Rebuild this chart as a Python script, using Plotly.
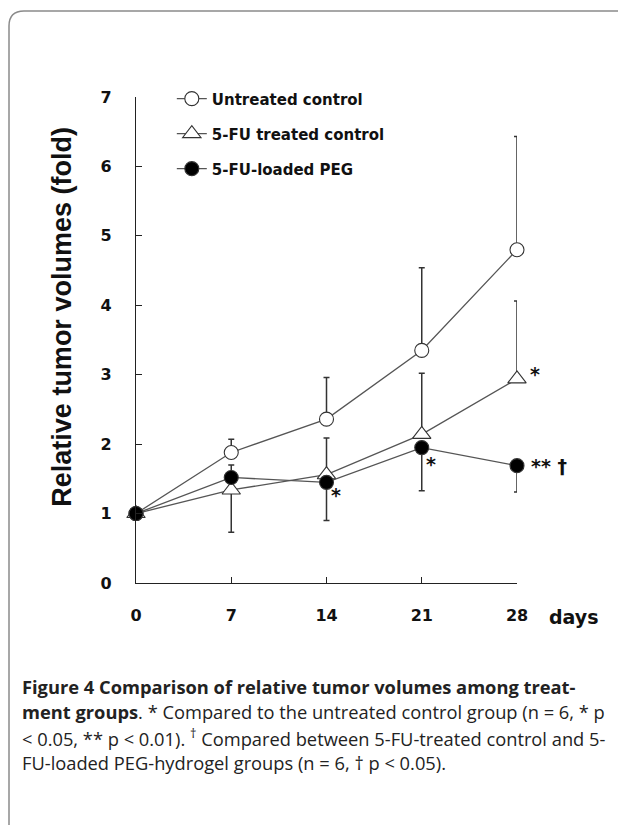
import plotly.graph_objects as go

days = [0, 7, 14, 21, 28]
day_labels = ["0", "7", "14", "21", "28"]

untreated = [1.0, 1.88, 2.36, 3.35, 4.80]
untreated_up = [0, 0.19, 0.60, 1.19, 1.63]
untreated_dn = [0, 0, 0, 0, 0]

treated = [1.0, 1.34, 1.56, 2.14, 2.94]
treated_up = [0, 0, 0.53, 0.88, 1.12]
treated_dn = [0, 0.61, 0, 0, 0]

loaded = [1.0, 1.52, 1.45, 1.95, 1.69]
loaded_up = [0, 0.18, 0, 0, 0]
loaded_dn = [0, 0, 0.55, 0.62, 0.38]

series_names = ["Untreated control", "5-FU treated control", "5-FU-loaded PEG"]

# significance marks: (series, day index, label)
marks = [
    ("treated", 4, "*"),
    ("loaded", 2, "*"),
    ("loaded", 3, "*"),
    ("loaded", 4, "** †"),
]

caption_lines = [
    "<b>Figure 4 Comparison of relative tumor volumes among treat-</b>",
    "<b>ment groups</b>. * Compared to the untreated control group (n = 6, * p",
    "&lt; 0.05, ** p &lt; 0.01). <sup>†</sup> Compared between 5-FU-treated control and 5-",
    "FU-loaded PEG-hydrogel groups (n = 6, † p &lt; 0.05).",
]

# page is offset by the 8px body margin
W, H = 618, 817
L, R, T, B = 128, 109, 89, 242
plot_w = W - L - R
plot_h = H - T - B

LINE = "#555555"
ERR = "#333333"

fig = go.Figure()

def add_series(name, y, up, dn, symbol, fill, group, size):
    fig.add_trace(go.Scatter(
        x=days, y=y, name=name, mode="lines+markers",
        legendgroup=group,
        line=dict(color=LINE, width=1.3),
        marker=dict(symbol=symbol, size=size,
                    color=fill, line=dict(color="#333333", width=1.1)),
        error_y=dict(type="data", symmetric=False, array=up, arrayminus=dn,
                     color=ERR, thickness=1.5, width=3),
        cliponaxis=False,
    ))

add_series(series_names[0], untreated, untreated_up, untreated_dn, "circle", "white", "a", 14)
add_series(series_names[1], treated, treated_up, treated_dn, "triangle-up", "white", "b", 16)
add_series(series_names[2], loaded, loaded_up, loaded_dn, "circle", "black", "c", 14)

lookup = {"treated": treated, "loaded": loaded, "untreated": untreated}
shifts = {("treated", 4): (11, 5), ("loaded", 2): (2, -13), ("loaded", 3): (2, -16), ("loaded", 4): (12, 0)}

annotations = []
for s, i, lab in marks:
    dx, dy = shifts[(s, i)]
    annotations.append(dict(
        x=days[i], y=lookup[s][i], xref="x", yref="y", text=lab, showarrow=False,
        xanchor="left", yanchor="middle", xshift=dx, yshift=dy,
        font=dict(family="DejaVu Sans", size=19, color="#111111", weight="bold"),
    ))

annotations.append(dict(
    x=1, y=0, xref="paper", yref="paper", text="<b>days</b>", showarrow=False,
    xanchor="left", yanchor="middle", xshift=30, yshift=-34,
    font=dict(family="DejaVu Sans", size=19, color="#111111"),
))

annotations.append(dict(
    x=0, y=0.548, xref="paper", yref="paper", text="<b>Relative tumor volumes (fold)</b>",
    showarrow=False, textangle=-90, xanchor="center", yanchor="middle", xshift=-74,
    font=dict(family="Liberation Sans", size=27, color="#111111"),
))

for k, line in enumerate(caption_lines):
    annotations.append(dict(
        x=0, y=0, xref="paper", yref="paper", text=line, showarrow=False,
        xanchor="left", yanchor="middle", xshift=-(L - 12), yshift=-(103.5 + 25.3 * k),
        font=dict(family="Open Sans", size=18.3, color="#222222"),
        align="left",
    ))

axis_common = dict(
    showline=True, linecolor="#222222", linewidth=1.3, mirror=False,
    ticks="inside", ticklen=6, tickcolor="#222222", tickwidth=1.2,
    showgrid=False, zeroline=False,
    tickfont=dict(family="DejaVu Sans", size=16, color="#111111"),
)

def px(x):
    return (x - L) / plot_w

def py(y):
    return (H - B - y) / plot_h

frame_path = "M {a},{b} L {a},{c} Q {a},{d} {e},{d} L {f},{d}".format(
    a=px(1), b=py(H + 5), c=py(18), d=py(3), e=px(16), f=px(W + 5))

fig.update_layout(
    width=W, height=H,
    margin=dict(l=L, r=R, t=T, b=B),
    paper_bgcolor="white", plot_bgcolor="white",
    xaxis=dict(range=[0, 28], tickvals=days, ticktext=[f"<b>{t}</b>" for t in day_labels],
               ticklabelstandoff=18, **axis_common),
    yaxis=dict(range=[0, 7], tickvals=list(range(8)),
               ticktext=[f"<b>{v}</b>" for v in range(8)],
               ticklabelstandoff=20, **axis_common),
    showlegend=True,
    legend=dict(x=0.094, y=1.03, xanchor="left", yanchor="top",
                font=dict(family="DejaVu Sans", size=15, color="#111111", weight="bold"),
                itemwidth=30, tracegroupgap=12.5, bgcolor="rgba(0,0,0,0)"),
    annotations=annotations,
    shapes=[dict(
        type="path", xref="paper", yref="paper", path=frame_path,
        line=dict(color="#8a8a8a", width=1.5),
    )],
)

fig.write_html("out.html")
